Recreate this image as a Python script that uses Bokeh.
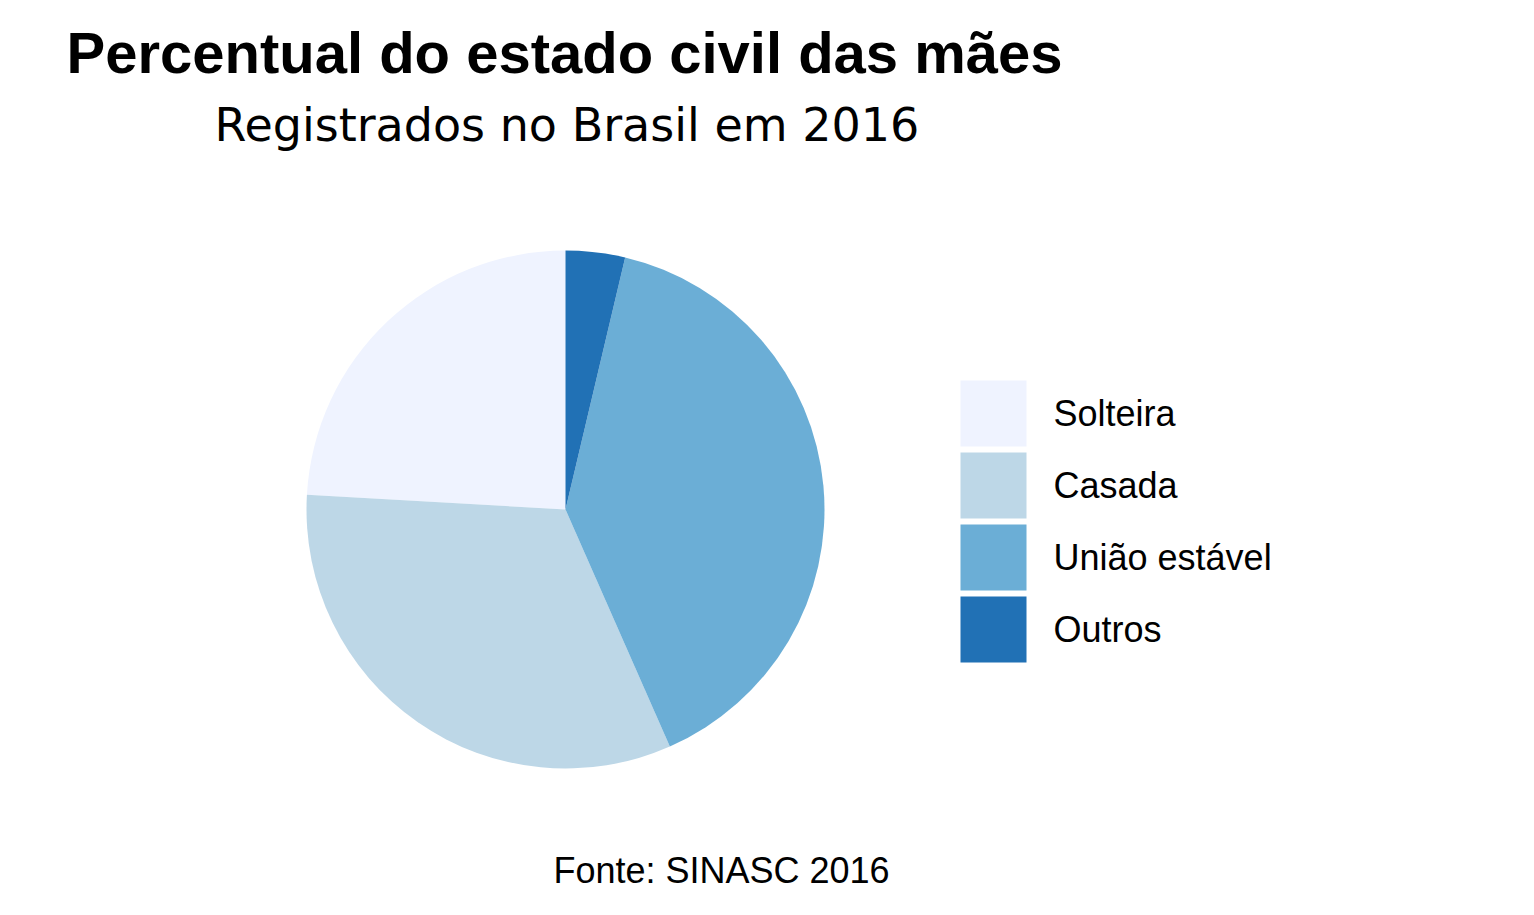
import numpy as np
from bokeh.plotting import figure
from bokeh.models import Range1d, ColumnDataSource
from bokeh.core.properties import value
from bokeh.embed import file_html
from bokeh.resources import INLINE

# ---- data ----
categories = ["Solteira", "Casada", "União estável", "Outros"]
percent = [24.1, 32.5, 39.7, 3.7]
colors = ["#EFF3FF", "#BDD7E7", "#6BAED6", "#2171B5"]

title = "Percentual do estado civil das mães"
subtitle = "Registrados no Brasil em 2016"
caption = "Fonte: SINASC 2016"

# ---- layout (screen pixel coordinates -> data with y up) ----
W, H = 1518, 899
PAGE_H = 915
def py(y):
    return PAGE_H - y

p = figure(width=W, height=H, output_backend="svg", toolbar_location=None,
           x_range=Range1d(0, W), y_range=Range1d(py(H), py(0)),
           min_border=0, outline_line_color=None)
p.axis.visible = False
p.grid.visible = False
p.background_fill_color = "white"
p.border_fill_color = "white"

# pie: stacked in reverse order (last category starts at top), clockwise
vals = np.array(percent, dtype=float)
order = list(range(len(categories)))[::-1]
frac = vals / vals.sum()
starts, ends = {}, {}
cum = 0.0
for i in order:
    starts[i] = np.pi / 2 - cum * 2 * np.pi
    cum += frac[i]
    ends[i] = np.pi / 2 - cum * 2 * np.pi

cx, cy, r = 565, py(509), 259
src = ColumnDataSource(dict(
    cat=categories, color=colors,
    start=[starts[i] for i in range(len(categories))],
    end=[ends[i] for i in range(len(categories))],
    x=[cx] * len(categories), y=[cy] * len(categories),
))
p.wedge(x="x", y="y", radius=r, start_angle="start", end_angle="end",
        direction="clock", fill_color="color", line_color=None, source=src)

# legend (manual keys)
key = 66
step = 72
kx = 960 + key / 2
ky0 = 380 + key / 2
leg = ColumnDataSource(dict(
    x=[kx] * len(categories),
    y=[py(ky0 + i * step) for i in range(len(categories))],
    tx=[1053] * len(categories),
    ty=[py(ky0 + i * step) for i in range(len(categories))],
    color=colors, cat=categories,
))
p.rect(x="x", y="y", width=key, height=key, fill_color="color",
       line_color=None, source=leg)
p.text(x="tx", y="ty", text="cat", source=leg, text_font=value("Liberation Sans"),
       text_font_size="36px", text_color="black", text_baseline="middle",
       text_align="left")

# titles
p.text(x=[66], y=[py(52)], text=[title], text_font=value("Liberation Sans"),
       text_font_style="bold", text_font_size="58px", text_color="black",
       text_baseline="middle", text_align="left")
p.text(x=[214], y=[py(124)], text=[subtitle], text_font=value("DejaVu Sans"),
       text_font_size="46px", text_color="black",
       text_baseline="middle", text_align="left")
p.text(x=[721], y=[py(870)], text=[caption], text_font=value("Liberation Sans"),
       text_font_size="36px", text_color="black",
       text_baseline="middle", text_align="center")

open("out.html", "w").write(file_html(p, INLINE))
